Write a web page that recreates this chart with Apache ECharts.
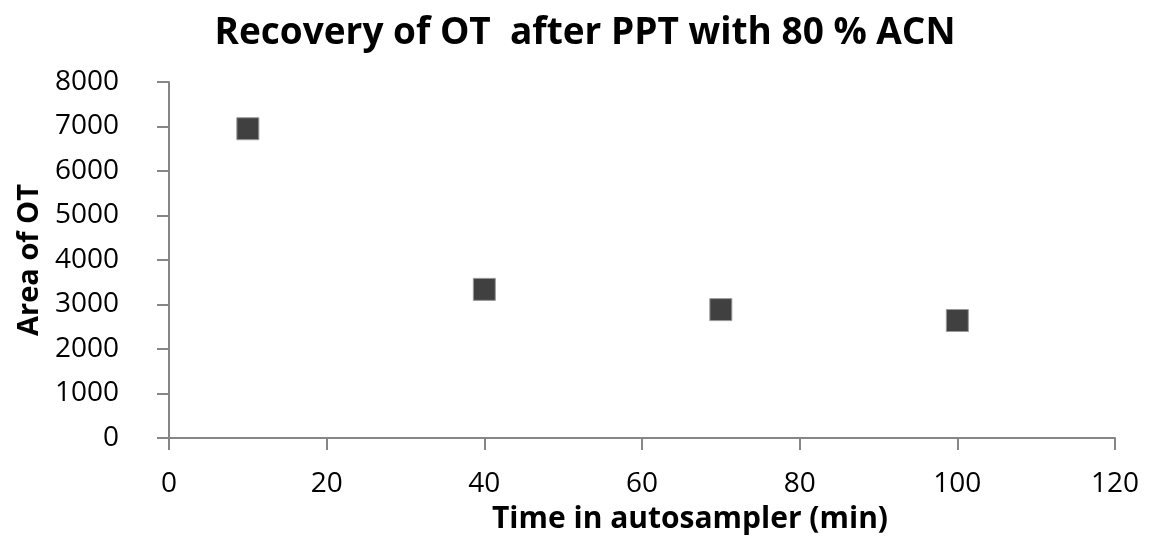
<!DOCTYPE html>
<html>
<head>
<meta charset="utf-8">
<script src="https://cdn.jsdelivr.net/npm/echarts@6/dist/echarts.min.js"></script>
<style>
html, body { margin: 0; padding: 0; background: #fff; }
#chart { width: 1150px; height: 542px; }
</style>
</head>
<body>
<div id="chart"></div>
<script>
// time in autosampler (min) and measured peak area
var times = [10, 40, 70, 100];
var areas = [6950, 3340, 2885, 2640];

var points = [];
for (var i = 0; i < times.length; i++) {
    points.push([times[i], areas[i]]);
}

var myChart = echarts.init(document.getElementById('chart'));
var axisColor = '#868686';
var font = 'Open Sans';

var option = {
    animation: false,
    title: {
        text: 'Recovery of OT  after PPT with 80 % ACN',
        left: 580,
        top: 10,
        textAlign: 'center',
        textStyle: { fontFamily: font, fontSize: 37, fontWeight: 'bold', color: '#000' }
    },
    grid: { left: 169, right: 35, top: 82, bottom: 104 },
    xAxis: {
        type: 'value',
        min: 0,
        max: 120,
        interval: 20,
        name: 'Time in autosampler (min)',
        nameLocation: 'middle',
        nameGap: 66,
        nameTextStyle: { fontFamily: font, fontSize: 30, fontWeight: 'bold', color: '#000', padding: [0, 0, 0, 96] },
        splitLine: { show: false },
        axisLine: { lineStyle: { color: axisColor, width: 2 } },
        axisTick: { length: 12, lineStyle: { color: axisColor, width: 2 } },
        axisLabel: { margin: 32, fontFamily: font, fontSize: 28, color: '#000' }
    },
    yAxis: {
        type: 'value',
        min: 0,
        max: 8000,
        interval: 1000,
        name: 'Area of OT',
        nameLocation: 'middle',
        nameGap: 123,
        nameTextStyle: { fontFamily: font, fontSize: 29, fontWeight: 'bold', color: '#000' },
        splitLine: { show: false },
        axisLine: { show: true, lineStyle: { color: axisColor, width: 2 } },
        axisTick: { show: true, length: 12, lineStyle: { color: axisColor, width: 2 } },
        axisLabel: {
            margin: 50, fontFamily: font, fontSize: 28, color: '#000',
            formatter: function (v) { return String(v); }
        }
    },
    series: [{
        type: 'scatter',
        symbol: 'rect',
        symbolSize: 22,
        itemStyle: { color: '#404040', opacity: 1, borderColor: '#9a9a9a', borderWidth: 1 },
        data: points
    }]
};

myChart.setOption(option);
</script>
</body>
</html>
